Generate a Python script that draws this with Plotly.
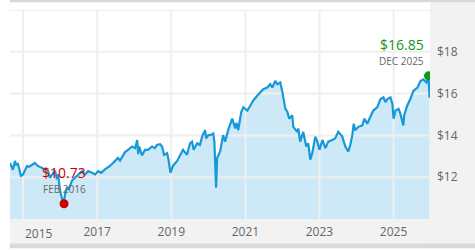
import plotly.graph_objects as go

# ---- data ----
dates = [
    "2014-08-25", "2014-09-13", "2014-09-23", "2014-10-12", "2014-10-25", "2014-11-11",
    "2014-12-11", "2015-01-01", "2015-02-09", "2015-03-01", "2015-03-29", "2015-04-27",
    "2015-05-26", "2015-07-06", "2015-08-04", "2015-09-03", "2015-09-23", "2015-10-12",
    "2015-11-12", "2015-12-01", "2015-12-11", "2016-01-01", "2016-01-20", "2016-02-09",
    "2016-02-19", "2016-03-09", "2016-03-25", "2016-04-27", "2016-05-27", "2016-06-26",
    "2016-08-04", "2016-09-03", "2016-10-03", "2016-11-12", "2016-12-11", "2017-01-10",
    "2017-02-09", "2017-03-18", "2017-05-07", "2017-06-26", "2017-07-25", "2017-08-14",
    "2017-09-13", "2017-10-02", "2017-11-01", "2017-12-11", "2018-01-10", "2018-01-30",
    "2018-02-09", "2018-02-19", "2018-03-18", "2018-04-17", "2018-05-16", "2018-06-25",
    "2018-07-24", "2018-08-13", "2018-09-13", "2018-10-02", "2018-10-22", "2018-11-21",
    "2018-12-05", "2018-12-24", "2019-01-10", "2019-01-19", "2019-02-28", "2019-03-28",
    "2019-04-27", "2019-06-05", "2019-07-05", "2019-07-25", "2019-08-10", "2019-09-13",
    "2019-10-10", "2019-11-01", "2019-12-01", "2019-12-10", "2020-01-01", "2020-01-20",
    "2020-02-19", "2020-03-01", "2020-03-18", "2020-03-28", "2020-04-27", "2020-05-26",
    "2020-06-15", "2020-07-15", "2020-08-24", "2020-09-23", "2020-10-05", "2020-10-22",
    "2020-11-21", "2020-12-11", "2021-01-20", "2021-02-19", "2021-03-18", "2021-04-27",
    "2021-05-27", "2021-06-26", "2021-08-04", "2021-09-03", "2021-09-23", "2021-10-22",
    "2021-11-11", "2021-12-11", "2022-01-01", "2022-01-30", "2022-02-19", "2022-03-09",
    "2022-04-08", "2022-04-18", "2022-05-27", "2022-06-06", "2022-06-25", "2022-07-25",
    "2022-08-24", "2022-09-13", "2022-10-02", "2022-10-22", "2022-11-21", "2022-12-11",
    "2023-01-01", "2023-01-30", "2023-03-01", "2023-03-29", "2023-05-07", "2023-06-06",
    "2023-07-05", "2023-08-14", "2023-09-13", "2023-10-12", "2023-11-01", "2023-11-21",
    "2023-12-05", "2023-12-20", "2024-01-19", "2024-02-28", "2024-03-18", "2024-04-17",
    "2024-05-16", "2024-06-15", "2024-07-25", "2024-08-24", "2024-09-23", "2024-10-12",
    "2024-11-01", "2024-12-01", "2024-12-20", "2025-01-01", "2025-01-20", "2025-02-19",
    "2025-03-09", "2025-04-07", "2025-04-15", "2025-05-16", "2025-06-15", "2025-07-15",
    "2025-08-24", "2025-09-23", "2025-10-22", "2025-11-21", "2025-12-11", "2025-12-22",
]
prices = [
    12.68, 12.40, 12.35, 12.78, 12.60, 12.64,
    12.07, 12.13, 12.54, 12.50, 12.59, 12.68,
    12.54, 12.45, 12.38, 12.31, 11.98, 12.10,
    12.31, 11.90, 12.13, 11.36, 10.96, 10.88,
    11.19, 11.51, 11.40, 11.84, 11.98, 12.13,
    12.29, 12.13, 12.29, 12.21, 12.13, 12.29,
    12.21, 12.37, 12.54, 12.78, 12.92, 12.80,
    13.07, 13.20, 13.31, 13.47, 13.39, 13.78,
    13.10, 13.47, 13.04, 13.31, 13.31, 13.47,
    13.39, 13.54, 13.58, 13.47, 13.07, 13.15,
    12.84, 12.21, 12.45, 12.55, 12.78, 13.07,
    13.31, 13.07, 13.62, 13.70, 13.31, 13.62,
    13.54, 13.94, 14.25, 13.86, 14.01, 14.01,
    14.09, 13.70, 11.50, 12.92, 13.23, 14.01,
    13.70, 14.25, 14.80, 14.33, 14.60, 14.25,
    15.12, 15.35, 15.19, 15.43, 15.66, 15.90,
    16.06, 16.21, 16.29, 16.45, 16.29, 16.61,
    16.45, 16.53, 16.06, 15.27, 15.12, 14.80,
    14.96, 14.41, 14.17, 14.33, 13.70, 14.17,
    13.47, 13.62, 12.84, 13.15, 13.94, 13.70,
    13.31, 13.78, 13.39, 13.70, 13.78, 13.86,
    14.17, 13.94, 13.47, 13.23, 13.54, 14.01,
    14.56, 14.25, 14.41, 14.48, 14.80, 14.56,
    14.88, 15.19, 15.35, 15.74, 15.82, 15.59,
    15.74, 15.82, 15.51, 14.80, 15.19, 15.27,
    15.04, 14.48, 14.96, 15.43, 15.74, 16.13,
    16.29, 16.60, 16.68, 16.53, 16.85, 15.80,
]

max_date = ["2025-12-11"]
max_value = [16.85]
max_price_label = "$16.85"
max_date_label = "DEC 2025"

min_date = ["2016-02-09"]
min_value = [10.73]
min_price_label = "$10.73"
min_date_label = "FEB 2016"

x_tick_vals = ["2015-01-01", "2017-01-01", "2019-01-01", "2021-01-01", "2023-01-01", "2025-01-01"]
x_tick_text = ["2015", "2017", "2019", "2021", "2023", "2025"]
y_tick_vals = [10, 12, 14, 16, 18, 20]
y_tick_text = ["", "$12", "$14", "$16", "$18", ""]

x_range = ["2014-08-25", "2025-12-26"]
y_range = [10, 20]

LINE = "#1798d8"
FILL = "#cde9f7"
GRID = "#efefef"
PANEL = "#f2f2f2"
EDGE = "#d9d9d9"
TXT = "#666666"
FONT = "Open Sans"

fig = go.Figure()

# area fill
fig.add_trace(go.Scatter(x=dates, y=prices, mode="lines", fill="tozeroy",
                         fillcolor=FILL, line=dict(width=0, color=FILL),
                         hoverinfo="skip", showlegend=False))

# grid lines drawn above the fill
gx, gy = [], []
for v in y_tick_vals[1:]:
    gx += [x_range[0], x_range[1], None]
    gy += [v, v, None]
for t in x_tick_vals:
    gx += [t, t, None]
    gy += [y_range[0], y_range[1], None]
fig.add_trace(go.Scatter(x=gx, y=gy, mode="lines", line=dict(color=GRID, width=2),
                         hoverinfo="skip", showlegend=False))

# price line
fig.add_trace(go.Scatter(x=dates, y=prices, mode="lines",
                         line=dict(color=LINE, width=2.2),
                         hoverinfo="skip", showlegend=False))

# max / min markers
fig.add_trace(go.Scatter(x=max_date, y=max_value, mode="markers",
                         marker=dict(size=9, color="#119911"), showlegend=False))
fig.add_trace(go.Scatter(x=min_date, y=min_value, mode="markers",
                         marker=dict(size=9, color="#cc0000"), showlegend=False))

annotations = [
    dict(x=max_date[0], y=max_value[0], text=max_price_label, showarrow=False,
         xanchor="right", yanchor="middle", xshift=-2, yshift=31,
         font=dict(family=FONT, size=14, color="#119911")),
    dict(x=max_date[0], y=max_value[0], text=max_date_label, showarrow=False,
         xanchor="right", yanchor="middle", xshift=-2, yshift=15,
         font=dict(family=FONT, size=10, color=TXT)),
    dict(x=min_date[0], y=min_value[0], text=min_price_label, showarrow=False,
         xanchor="center", yanchor="middle", yshift=31,
         font=dict(family=FONT, size=14, color="#cc0000")),
    dict(x=min_date[0], y=min_value[0], text=min_date_label, showarrow=False,
         xanchor="center", yanchor="middle", yshift=15,
         font=dict(family=FONT, size=10, color=TXT)),
    dict(x=x_tick_vals[0], y=0, xref="x", yref="paper", text=x_tick_text[0],
         showarrow=False, xanchor="left", yanchor="top", xshift=0, yshift=-4,
         font=dict(family=FONT, size=12, color=TXT)),
]

shapes = [
    # right panel
    dict(type="rect", xref="paper", yref="paper", x0=1.0, x1=1.12, y0=-0.1174, y1=1.0376,
         fillcolor=PANEL, line=dict(width=0), layer="below"),
    # bottom band
    dict(type="rect", xref="paper", yref="paper", x0=0.0, x1=1.12, y0=-0.1174, y1=0.0,
         fillcolor=PANEL, line=dict(width=0), layer="below"),
    # bottom edge line
    dict(type="rect", xref="paper", yref="paper", x0=0.0, x1=1.12, y0=-0.14, y1=-0.1174,
         fillcolor=EDGE, line=dict(width=0), layer="below"),
    # top edge line
    dict(type="rect", xref="paper", yref="paper", x0=0.0, x1=1.12, y0=1.0376, y1=1.06,
         fillcolor=EDGE, line=dict(width=0), layer="below"),
]

fig.update_layout(
    width=475, height=250,
    margin=dict(l=10, r=45, t=10, b=27, pad=0),
    paper_bgcolor="white", plot_bgcolor="white",
    showlegend=False,
    font=dict(family=FONT, size=12, color=TXT),
    xaxis=dict(type="date", range=x_range, tickvals=x_tick_vals[1:], ticktext=x_tick_text[1:],
               showgrid=False, zeroline=False, showline=False, ticks="",
               ticklabelstandoff=4, tickfont=dict(family=FONT, size=12, color=TXT),
               fixedrange=True),
    yaxis=dict(range=y_range, side="right", tickvals=y_tick_vals, ticktext=y_tick_text,
               showgrid=False, zeroline=False, showline=False, ticks="",
               ticklabelstandoff=6, tickfont=dict(family=FONT, size=12, color=TXT),
               fixedrange=True),
    annotations=annotations,
    shapes=shapes,
)

fig.write_html("out.html")
